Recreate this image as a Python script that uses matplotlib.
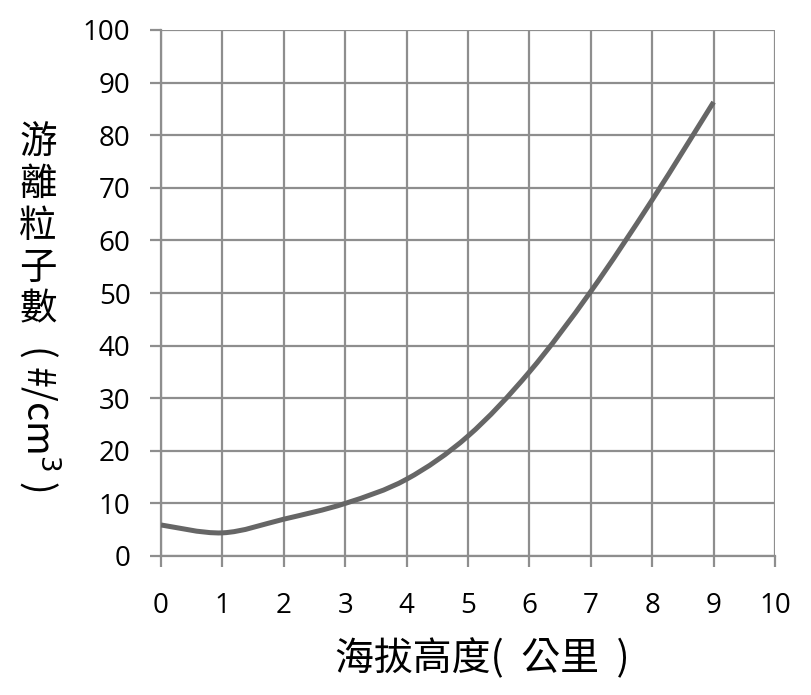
import numpy as np
import matplotlib
matplotlib.use("Agg")
import matplotlib.pyplot as plt
from matplotlib.path import Path
from matplotlib.patches import PathPatch

altitude_km = [0, 1, 2, 3, 4, 5, 6, 7, 8, 9]
ion_count = [5.9, 4.4, 7.0, 10.0, 14.6, 22.8, 35.0, 50.3, 67.7, 86.3]
x_ticks = list(range(0, 11))
y_ticks = list(range(0, 101, 10))

CJK = ['Noto Sans CJK TC', 'DejaVu Sans']
NUM = ['Open Sans', 'DejaVu Sans']

fig = plt.figure(figsize=(8.11, 6.95), dpi=100)
ax = fig.add_axes([161/811, 1-556/695, (775-161)/811, (556-30)/695])

ax.set_xlim(0, 10)
ax.set_ylim(0, 100)
ax.set_xticks(x_ticks)
ax.set_yticks(y_ticks)
grid_c = '#8e8e8e'
ax.grid(True, color=grid_c, linewidth=1.6)
ax.set_axisbelow(True)
for s in ['top', 'right']:
    ax.spines[s].set_visible(False)
for s in ['left', 'bottom']:
    ax.spines[s].set_color(grid_c)
    ax.spines[s].set_linewidth(1.6)
ax.tick_params(axis='both', direction='out', length=8, width=1.6, color=grid_c,
               labelsize=20, labelcolor='black')
ax.tick_params(axis='x', pad=18)
ax.tick_params(axis='y', pad=14)
for lab in ax.get_xticklabels() + ax.get_yticklabels():
    lab.set_family(NUM)

# smooth curve (Excel-style Bezier through the data points)
x = np.array(altitude_km, float)
y = np.array(ion_count, float)
verts = [(x[0], y[0])]
codes = [Path.MOVETO]
n = len(x)
for i in range(n - 1):
    p0 = np.array([x[max(i-1, 0)], y[max(i-1, 0)]])
    p1 = np.array([x[i], y[i]])
    p2 = np.array([x[i+1], y[i+1]])
    p3 = np.array([x[min(i+2, n-1)], y[min(i+2, n-1)]])
    c1 = p1 + (p2 - p0) / 6
    c2 = p2 - (p3 - p1) / 6
    verts += [tuple(c1), tuple(c2), tuple(p2)]
    codes += [Path.CURVE4] * 3
patch = PathPatch(Path(verts, codes), facecolor='none', edgecolor='#666666',
                  linewidth=3.6, capstyle='butt', joinstyle='round', zorder=3)
ax.add_patch(patch)

# y label: stacked upright characters + rotated unit
ylab_chars = ['游', '離', '粒', '子', '數']
centers = [142, 184, 226, 268, 310]
for ch, cy in zip(ylab_chars, centers):
    fig.text(38/811, 1-cy/695, ch, family=CJK, fontsize=27,
             ha='center', va='center')
fig.text(40/811, 1-418/695, '( #/cm$^{3}$ )', family=CJK, fontsize=27,
         rotation=-90, ha='center', va='center')

# x label
fig.text(482/811, 1-659/695, '海拔高度(  公里  )', family=CJK, fontsize=28,
         ha='center', va='center')

fig.savefig('out.png', dpi=100)
